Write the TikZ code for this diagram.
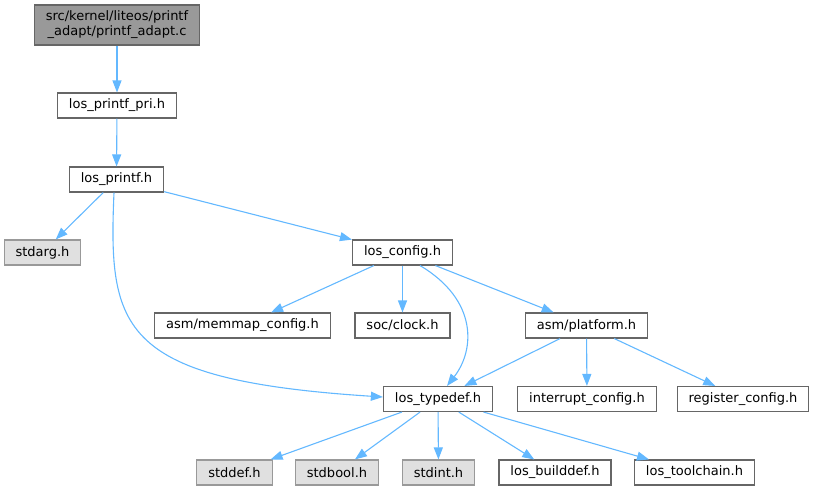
\documentclass[tikz,border=0pt]{standalone}
\usepackage{fontspec}
\setmainfont{DejaVu Sans}
\usepackage{tikz}
\usetikzlibrary{arrows.meta}
\definecolor{edgeblue}{HTML}{63B8FF}
\definecolor{boxline}{HTML}{666666}
\definecolor{sysline}{HTML}{999999}
\definecolor{sysfill}{HTML}{E0E0E0}
\definecolor{rootfill}{HTML}{999999}

\begin{document}
\begin{tikzpicture}[x=1pt,y=-1pt,
  font=\fontsize{13}{15}\selectfont,
  hdr/.style={draw=boxline,fill=white,line width=1.1pt,inner xsep=11.5pt,inner ysep=0pt,minimum height=25pt},
  sys/.style={hdr,draw=sysline,fill=sysfill},
  root/.style={hdr,fill=rootfill,align=center,minimum height=40pt,minimum width=164pt},
  inc/.style={color=edgeblue,line width=1.1pt,-{Triangle[length=12pt,width=9pt]}}]
  \useasboundingbox (0,0) rectangle (816,491);
  % files
  \node[root] (src) at (117,25) {src/kernel/liteos/printf\\\_adapt/printf\_adapt.c};
  \node[hdr] (pri) at (117,105.5) {los\_printf\_pri.h};
  \node[hdr] (prt) at (116.5,179.5) {los\_printf.h};
  \node[sys] (sarg) at (42.5,252.5) {stdarg.h};
  \node[hdr] (cfg) at (402.5,252.5) {los\_config.h};
  \node[hdr] (mmap) at (242.5,325.5) {asm/memmap\_config.h};
  \node[hdr] (clk) at (402.5,325.5) {soc/clock.h};
  \node[hdr] (plat) at (586.5,325.5) {asm/platform.h};
  \node[hdr] (tdef) at (438,399) {los\_typedef.h};
  \node[hdr] (irq) at (587,399) {interrupt\_config.h};
  \node[hdr] (reg) at (743,399) {register\_config.h};
  \node[sys] (sdef) at (234.5,472.5) {stddef.h};
  \node[sys] (sbool) at (337,472.5) {stdbool.h};
  \node[sys] (sint) at (438.5,472.5) {stdint.h};
  \node[hdr] (bdef) at (555,472.5) {los\_builddef.h};
  \node[hdr] (tch) at (694.5,472.5) {los\_toolchain.h};
  % includes
  \path[inc]
    (src) edge (pri)
    (pri) edge (prt)
    (prt) edge (sarg)
    (prt) edge (cfg)
    (cfg) edge (mmap)
    (cfg) edge (clk)
    (cfg) edge (plat)
    (plat) edge (tdef)
    (plat) edge (irq)
    (plat) edge (reg)
    (tdef) edge (sdef)
    (tdef) edge (sbool)
    (tdef) edge (sint)
    (tdef) edge (bdef)
    (tdef) edge (tch);
  \draw[inc] ([xshift=-2.5pt]prt.south) .. controls (108,330) and (120,380) .. ([yshift=2pt]tdef.west);
  \draw[inc] ([xshift=17.5pt]cfg.south) .. controls (478,300) and (475,350) .. ([xshift=9pt]tdef.north);
\end{tikzpicture}
\end{document}
